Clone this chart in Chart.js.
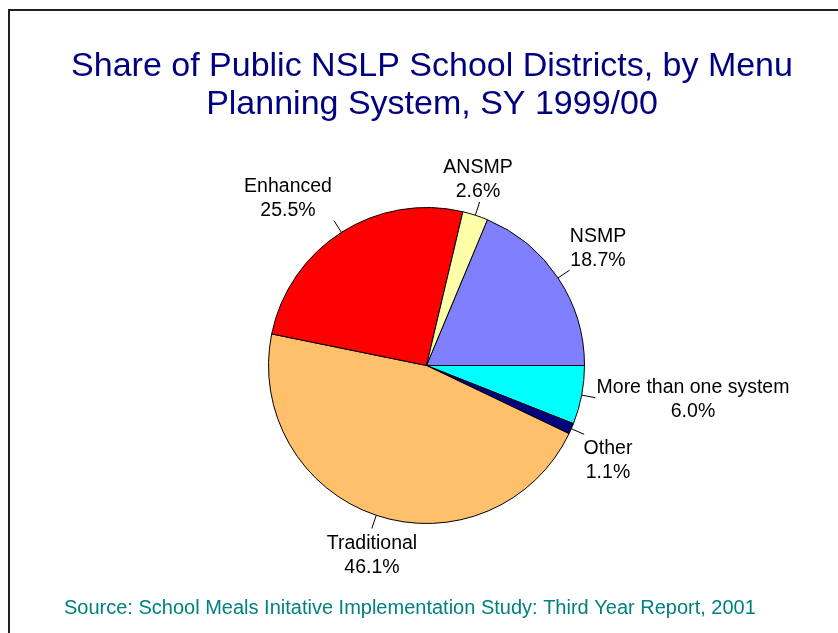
<!DOCTYPE html>
<html>
<head>
<meta charset="utf-8">
<title>Share of Public NSLP School Districts, by Menu Planning System</title>
<script src="https://cdn.jsdelivr.net/npm/chart.js@4.4.0/dist/chart.umd.min.js"></script>
<style>
    html, body { margin: 0; padding: 0; background: #ffffff; }
    #chartPie { display: block; }
</style>
</head>
<body>
<canvas id="chartPie" width="838" height="633"></canvas>
<script>
// ===== Datos del gráfico =====
const categorias = ['NSMP', 'More than one system', 'Other', 'Traditional', 'Enhanced', 'ANSMP'];
const porcentajes = [18.7, 6.0, 1.1, 46.1, 25.5, 2.6];
const colores = ['#8080ff', '#00ffff', '#000080', '#ffc06c', '#ff0000', '#ffffa8'];

const tituloLineas = ['Share of Public NSLP School Districts, by Menu', 'Planning System, SY 1999/00'];
const fuente = 'Source: School Meals Initative Implementation Study: Third Year Report, 2001';

// Posición de cada etiqueta (centro x, línea base de la primera línea)
const posEtiquetas = [
    [598, 242],
    [693, 393],
    [608, 454],
    [372, 549],
    [288, 192],
    [478, 173]
];

// Plugin: marco, título, fuente, líneas guía y etiquetas
const pluginTextos = {
    id: 'textos',
    afterDraw(chart) {
        const ctx = chart.ctx;
        ctx.save();

        // Marco
        ctx.strokeStyle = '#202020';
        ctx.lineWidth = 2;
        ctx.strokeRect(9, 10, 900, 700);

        // Título
        ctx.fillStyle = '#000080';
        ctx.font = '34px "Liberation Sans", Arial, sans-serif';
        ctx.textAlign = 'center';
        ctx.textBaseline = 'alphabetic';
        ctx.fillText(tituloLineas[0], 432, 76);
        ctx.fillText(tituloLineas[1], 432, 114);

        // Fuente
        ctx.fillStyle = '#008080';
        ctx.font = '20px "Liberation Sans", Arial, sans-serif';
        ctx.textAlign = 'left';
        ctx.fillText(fuente, 64, 614);

        // Líneas guía desde el borde del sector
        const meta = chart.getDatasetMeta(0);
        ctx.strokeStyle = '#000000';
        ctx.lineWidth = 1;
        meta.data.forEach(function(arc) {
            const mid = (arc.startAngle + arc.endAngle) / 2;
            const r = arc.outerRadius;
            ctx.beginPath();
            ctx.moveTo(arc.x + Math.cos(mid) * r, arc.y + Math.sin(mid) * r);
            ctx.lineTo(arc.x + Math.cos(mid) * (r + 14), arc.y + Math.sin(mid) * (r + 14));
            ctx.stroke();
        });

        // Etiquetas
        ctx.fillStyle = '#000000';
        ctx.font = '19.5px "Liberation Sans", Arial, sans-serif';
        ctx.textAlign = 'center';
        categorias.forEach(function(cat, i) {
            const p = posEtiquetas[i];
            ctx.fillText(cat, p[0], p[1]);
            ctx.fillText(porcentajes[i].toFixed(1) + '%', p[0], p[1] + 24);
        });

        ctx.restore();
    }
};

const ctxPie = document.getElementById('chartPie');
const chartPie = new Chart(ctxPie, {
    type: 'pie',
    data: {
        labels: categorias,
        datasets: [{
            data: porcentajes,
            backgroundColor: colores,
            borderColor: '#000000',
            borderWidth: 1
        }]
    },
    options: {
        responsive: false,
        animation: false,
        rotation: 90 - porcentajes[0] * 3.6,
        layout: {
            padding: { left: 268, right: 253, top: 207, bottom: 109 }
        },
        plugins: {
            legend: { display: false },
            tooltip: { enabled: false }
        }
    },
    plugins: [pluginTextos]
});
</script>
</body>
</html>
